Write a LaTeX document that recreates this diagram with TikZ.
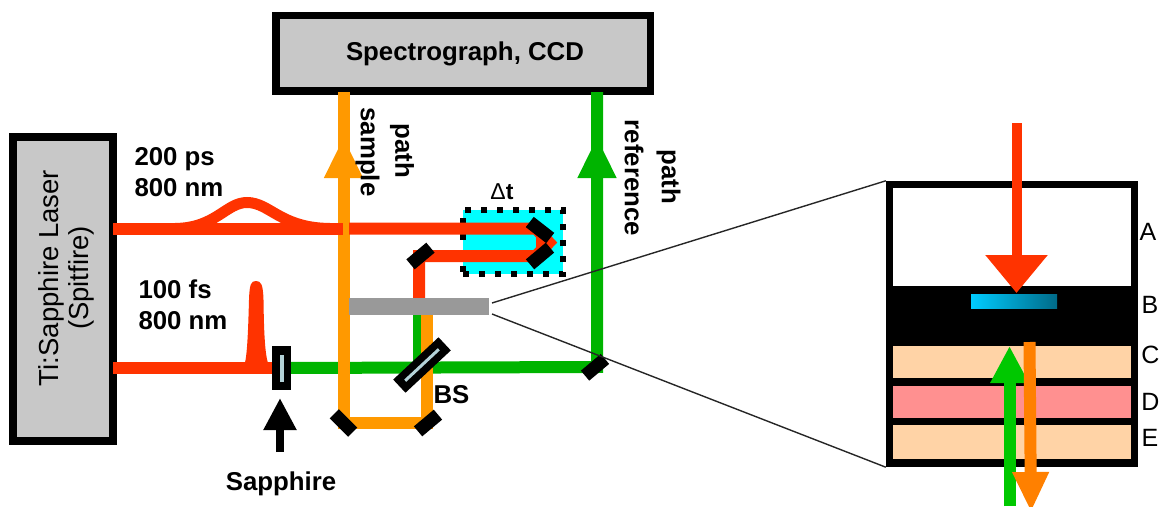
\documentclass[tikz,border=0pt]{standalone}
\usepackage{fontspec}
\setmainfont{Liberation Sans}
\usetikzlibrary{arrows.meta}
\definecolor{redbeam}{HTML}{FF3300}
\definecolor{orangebeam}{HTML}{FF9900}
\definecolor{greenbeam}{HTML}{00B400}
\definecolor{orangeout}{HTML}{FF8000}
\definecolor{greenin}{HTML}{00C800}
\definecolor{peach}{HTML}{FFD3A6}
\definecolor{pinklayer}{HTML}{FF9090}
\definecolor{boxgray}{HTML}{C8C8C8}
\definecolor{filtergray}{HTML}{999999}
\definecolor{delaycyan}{HTML}{00FFFF}
\definecolor{glass}{HTML}{B4D2D8}
\definecolor{barleft}{HTML}{00CCFF}
\definecolor{barright}{HTML}{006A88}
\tikzset{
    beam/.style={line width=12pt, line join=miter},
    mirror/.style={fill=black, minimum width=26pt, minimum height=13pt, inner sep=0pt, rotate=#1},
    instrument/.style={draw=black, line width=7.5pt, fill=boxgray, inner sep=0pt},
    layer/.style={fill=#1, inner sep=0pt, minimum width=238pt},
    lbl/.style={font=\fontsize{25.8}{31}\selectfont\bfseries, align=center, inner sep=0pt},
    letter/.style={font=\fontsize{25}{28}\selectfont, inner sep=0pt},
    zoomline/.style={draw=black!85, line width=1.4pt}
}
\begin{document}
\begin{tikzpicture}[x=1pt, y=-1pt]
            \useasboundingbox (0,0) rectangle (1159,506);
            \clip (0,0) rectangle (1159,506);
            \node[instrument, minimum width=374.5pt, minimum height=75.5pt] (spectrograph) at (463,53) {};
            \node[lbl] (spectrograph_text) at (465,54) {Spectrograph, CCD};
            \node[instrument, minimum width=100pt, minimum height=304pt] (laser) at (63,289) {};
            \node[rotate=90, align=center, inner sep=0pt, font=\fontsize{27.5}{30}\selectfont] (laser_text) at (66,278) {Ti:Sapphire Laser\\(Spitfire)};
            \node[fill=delaycyan, draw=black, line width=6pt, dash pattern=on 6pt off 10pt, minimum width=100pt, minimum height=64pt, inner sep=0pt] (delay) at (513,242) {};
            \coordinate (long_start) at (113,228.5);
            \coordinate (long_cross) at (343,228.5);
            \coordinate (long_after) at (349,228.5);
            \coordinate (retro_top) at (536,228.5);
            \coordinate (retro_tip) at (549,242.5);
            \coordinate (retro_low) at (536,256);
            \coordinate (fold_red) at (419,256);
            \coordinate (filter_red) at (419,300);
            \coordinate (short_start) at (113,368);
            \coordinate (sapphire_pos) at (281.5,368);
            \coordinate (bs_pos) at (422,365);
            \coordinate (turn_green) at (597,367);
            \coordinate (spec_green) at (597,92);
            \coordinate (tip_green) at (597,137);
            \coordinate (spec_orange) at (343.5,92);
            \coordinate (tip_orange) at (343.5,137);
            \coordinate (turn_left) at (343.5,423);
            \coordinate (turn_right) at (427,423);
            \coordinate (filter_orange) at (427,312);
            \coordinate (filter_green) at (417,312);
            \coordinate (bs_green) at (417,367);
            \draw[beam, greenbeam] (sapphire_pos) -- (turn_green) -- (spec_green);
            \draw[beam, greenbeam, -{Triangle[length=41pt, width=36pt]}] (turn_green) -- (tip_green);
            \draw[line width=9pt, greenbeam] (filter_green) -- (bs_green);
            \draw[beam, orangebeam] (filter_orange) -- (turn_right) -- (turn_left) -- (spec_orange);
            \draw[beam, orangebeam, -{Triangle[length=41pt, width=36pt]}] (turn_left) -- (tip_orange);
            \draw[beam, redbeam] (long_start) -- (long_cross);
            \draw[beam, redbeam] (long_after) -- (retro_top) -- (retro_tip) -- (retro_low) -- (fold_red) -- (filter_red);
            \fill[redbeam] (retro_top) -- (retro_tip) -- (retro_low) -- cycle;
            \draw[line width=11pt, redbeam] (175,228.5) .. controls (216,228) and (226,202.5) .. (247,202.5) .. controls (270,202.5) and (280,228) .. (330,228.5);
            \draw[beam, redbeam] (short_start) -- (sapphire_pos);
            \fill[redbeam] (242,368) .. controls (247,368) and (248,335) .. (249,300) .. controls (249.5,284) and (251,281) .. (256,281) .. controls (261,281) and (263,284) .. (263.5,300) .. controls (264,335) and (265,368) .. (272,368) -- cycle;
            \node[fill=black, minimum width=19pt, minimum height=44pt, inner sep=0pt] (sapphire) at (sapphire_pos) {};
            \node[fill=glass, minimum width=4pt, minimum height=27pt, inner sep=0pt] (sapphire_core) at (sapphire.center) {};
            \node[mirror=-45] (mirror_left) at (turn_left) {};
            \node[mirror=40] (mirror_right) at (428,423) {};
            \node[mirror=40] (mirror_green) at (595,367.3) {};
            \node[mirror=40] (mirror_fold) at (420.5,256) {};
            \node[mirror=-38] (retro_a) at (540,230) {};
            \node[mirror=40] (retro_b) at (540,256) {};
            \node[mirror=43, minimum width=62pt, minimum height=18pt] (bs) at (bs_pos) {};
            \node[fill=glass, rotate=43, minimum width=46pt, minimum height=3pt, inner sep=0pt] (bs_core) at (bs.center) {};
            \node[fill=filtergray, minimum width=140pt, minimum height=17pt, inner sep=0pt] (filter) at (419,306.5) {};
            \node[lbl, align=left] (long_label) at (179,172) {200 ps\\800 nm};
            \node[lbl, align=left] (short_label) at (183,305) {100 fs\\800 nm};
            \node[lbl, font=\fontsize{23}{28}\selectfont\bfseries] (dt_label) at (502,192) {{\fontseries{m}\selectfont Δ}t};
            \node[lbl] (bs_label) at (451.5,395) {BS};
            \node[lbl] (sapphire_label) at (281,484) {Sapphire};
            \node[lbl, rotate=-90] (sample_label) at (367.5,152) {sample};
            \node[lbl, rotate=-90] (sample_path_label) at (402,151) {path};
            \node[lbl, rotate=-90] (reference_label) at (634,178) {reference};
            \node[lbl, rotate=-90] (reference_path_label) at (668.5,177) {path};
            \coordinate (sap_arrow_start) at (280,452);
            \coordinate (sap_arrow_tip) at (280,398);
            \draw[line width=8pt, black, -{Triangle[length=32pt, width=31pt]}] (sap_arrow_start) -- (sap_arrow_tip);
            \node[fill=black, minimum width=252pt, minimum height=286pt, inner sep=0pt] (sample) at (1012,324) {};
            \node[fill=white, minimum width=238pt, minimum height=98pt, inner sep=0pt] (layer_a) at (1012,237) {};
            \node[layer=peach, minimum height=32pt] (layer_c) at (1012,362) {};
            \node[layer=pinklayer, minimum height=32pt] (layer_d) at (1012,402) {};
            \node[layer=peach, minimum height=34pt] (layer_e) at (1012,442) {};
            \node[inner sep=0pt, minimum width=86pt, minimum height=14pt, left color=barleft, right color=barright] (layer_b) at (1014,301) {};
            \coordinate (zoom_top) at (492,303);
            \coordinate (zoom_low) at (492,314);
            \draw[zoomline] (zoom_top) -- (sample.north west);
            \draw[zoomline] (zoom_low) -- (sample.south west);
            \coordinate (pump_start) at (1016.5,123);
            \coordinate (pump_tip) at (1016.5,293);
            \draw[line width=10pt, redbeam, -{Triangle[length=38pt, width=60pt]}] (pump_start) -- (pump_tip);
            \coordinate (probe_start) at (1009.5,506);
            \coordinate (probe_tip) at (1009.5,346);
            \draw[line width=12pt, greenin, -{Triangle[length=37pt, width=36pt]}] (probe_start) -- (probe_tip);
            \coordinate (signal_start) at (1029.5,342);
            \coordinate (signal_tip) at (1031,512);
            \draw[line width=12pt, orangeout, -{Triangle[length=40pt, width=34pt]}] (signal_start) -- (signal_tip);
            \node[letter] (letter_a) at (1148,232) {A};
            \node[letter] (letter_b) at (1150,305) {B};
            \node[letter] (letter_c) at (1150.5,355) {C};
            \node[letter] (letter_d) at (1150.5,402) {D};
            \node[letter] (letter_e) at (1150,438) {E};
        \end{tikzpicture}
\end{document}
